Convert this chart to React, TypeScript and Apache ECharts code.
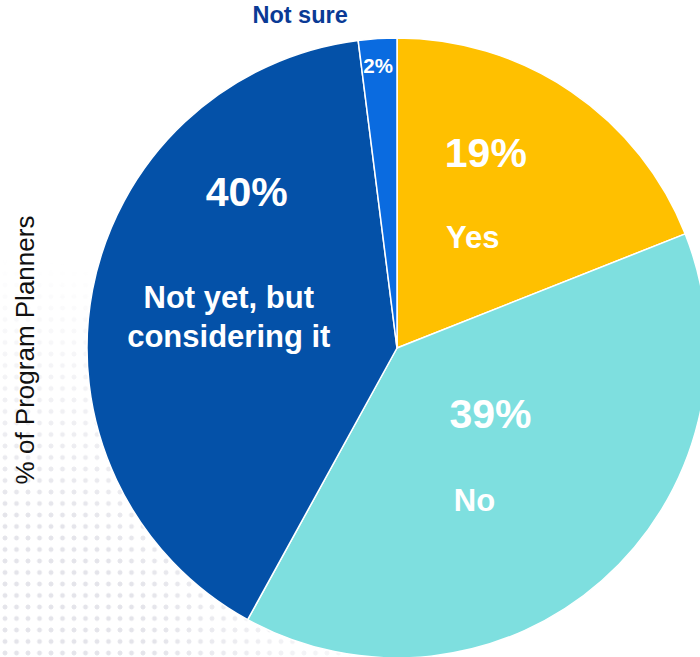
import React, { useEffect, useRef } from 'react';
import * as echarts from 'echarts';

const categories = ['Yes', 'No', 'Not yet, but\nconsidering it', 'Not sure'];
const shares = [19, 39, 40, 2];
const axisTitle = '% of Program Planners';

const SLICE_COLORS = ['#FFC000', '#7EDFDF', '#0451A8', '#0A6BE0'];
const LABEL_SHIFT = [
  [-13, -25],
  [-27, -12],
  [-13, -57],
  [-48, -151],
];
const FONT = '"Liberation Sans", Arial, Helvetica, sans-serif';

export default function App() {
  const ref = useRef<HTMLDivElement>(null);

  useEffect(() => {
    document.body.style.margin = '0';
    if (!ref.current) return;
    const chart = echarts.init(ref.current, null, { renderer: 'svg' });
    const pStyle = { fontFamily: FONT, fontSize: 41, fontWeight: 'bold', color: '#fff', lineHeight: 50 };
    const rich: any = {
      pY: { ...pStyle, padding: [0, 0, 0, 26] },
      pO: { ...pStyle, padding: [0, 0, 0, 32] },
      pN: { ...pStyle, padding: [0, 0, 0, 36] },
      n: { fontFamily: FONT, fontSize: 31, fontWeight: 'bold', color: '#fff', lineHeight: 39 },
      s0: { fontSize: 1, lineHeight: 40.5 },
      s1: { fontSize: 1, lineHeight: 41.5 },
      s2: { fontSize: 1, lineHeight: 61.5 },
      s3: { fontSize: 1, lineHeight: 27 },
      t: { fontFamily: FONT, fontSize: 23.5, fontWeight: 'bold', color: '#0A3A95', lineHeight: 26, padding: [0, 78, 0, 0] },
      q: { fontFamily: FONT, fontSize: 20.5, fontWeight: 'bold', color: '#fff', lineHeight: 22, padding: [0, 0, 0, 78] },
    };
    const pKey = ['pY', 'pO', 'pN'];
    chart.setOption({
      animation: false,
      backgroundColor: 'transparent',
      graphic: [
        {
          type: 'text',
          x: 25,
          y: 350,
          rotation: Math.PI / 2,
          style: {
            text: axisTitle,
            fontFamily: FONT,
            fontSize: 26,
            fill: '#111',
            align: 'center',
            verticalAlign: 'middle',
          },
        },
      ],
      series: [
        {
          type: 'pie',
          center: [397, 348],
          radius: [0, 310],
          startAngle: 90,
          clockwise: true,
          silent: true,
          emphasis: { disabled: true },
          avoidLabelOverlap: false,
          itemStyle: { borderColor: '#ffffff', borderWidth: 1.5 },
          label: {
            show: true,
            position: 'inside',
            rich,
            formatter: (params: any) => {
              const i = params.dataIndex;
              const pct = Math.round(params.percent) + '%';
              if (i === 3) return `{t|${params.name}}\n{s3| }\n{q|${pct}}`;
              return `{${pKey[i]}|${pct}}\n{s${i}| }\n{n|${params.name}}`;
            },
          },
          labelLine: { show: false },
          labelLayout: (params: any) => ({
            dx: LABEL_SHIFT[params.dataIndex][0],
            dy: LABEL_SHIFT[params.dataIndex][1],
          }),
          data: categories.map((c, i) => ({
            name: c,
            value: shares[i],
            itemStyle: { color: SLICE_COLORS[i] },
          })),
        },
      ],
    });
    return () => chart.dispose();
  }, []);

  const dotMask = 'radial-gradient(ellipse 430px 400px at 0% 100%, rgba(0,0,0,1) 35%, rgba(0,0,0,0) 100%)';
  return (
    <div style={{ position: 'relative', width: 700, height: 657, overflow: 'hidden', background: '#fff' }}>
      <div
        style={{
          position: 'absolute',
          left: 0,
          top: 0,
          width: 700,
          height: 657,
          backgroundImage: 'radial-gradient(circle, #e4e4ea 2.1px, rgba(255,255,255,0) 2.7px)',
          backgroundSize: '11.5px 11.5px',
          backgroundPosition: '-0.75px 3.25px',
          WebkitMaskImage: dotMask,
          maskImage: dotMask,
        }}
      />
      <div ref={ref} style={{ position: 'absolute', left: 0, top: 0, width: 700, height: 657 }} />
    </div>
  );
}
